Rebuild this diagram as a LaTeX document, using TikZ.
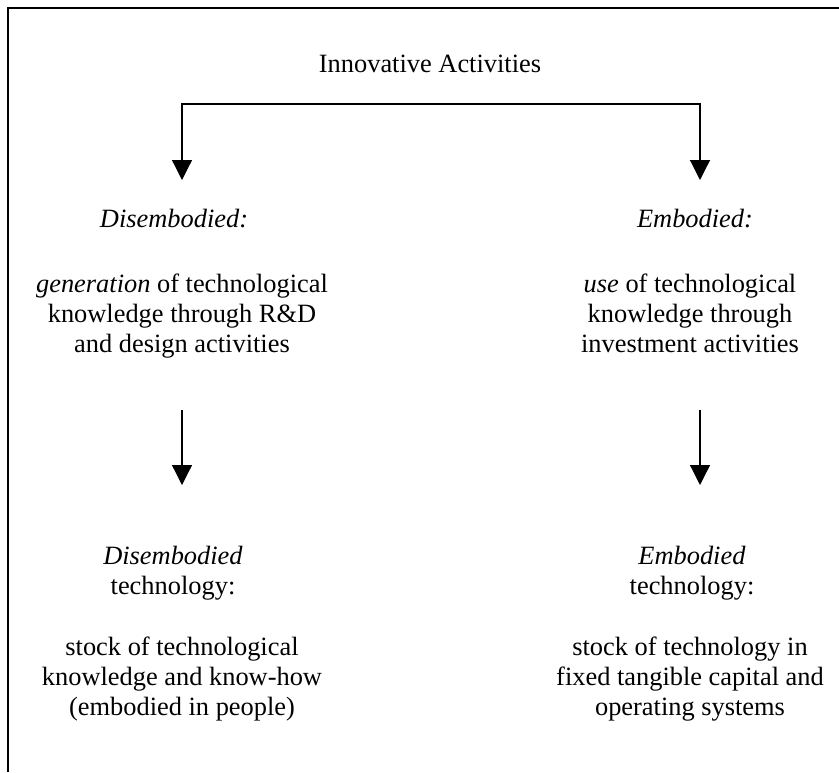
\documentclass[tikz,border=0pt]{standalone}
\usepackage{fontspec}
\setmainfont{Liberation Serif}
\usetikzlibrary{arrows.meta}

\begin{document}
\begin{tikzpicture}[x=0.5pt,y=-0.5pt,
    >={Triangle[length=10pt,width=10pt]},
    txt/.style={font=\fontsize{13.2}{15}\selectfont,align=center,inner sep=0pt,anchor=base},
    link/.style={line width=0.6pt},
    frame/.style={line width=0.8pt}]
  \useasboundingbox (0,0) rectangle (839,772);
  \draw[frame] (8,772) -- (8,8) -- (839,8);

  % base anchor of a multi-line node sits on its last line
  \node[txt] (title) at (430,72) {Innovative Activities};

  \node[txt] (disHead) at (174,227) {\textit{Disembodied:}};
  \node[txt] (disBody) at (182,352) {\textit{generation} of technological\\knowledge through R\&D\\and design activities};
  \node[txt] (embHead) at (695,227) {\textit{Embodied:}};
  \node[txt] (embBody) at (690,352) {\textit{use} of technological\\knowledge through\\investment activities};

  \node[txt] (disTechHead) at (173,594) {\textit{Disembodied}\\technology:};
  \node[txt] (disTech) at (182,715) {stock of technological\\knowledge and know-how\\(embodied in people)};
  \node[txt] (embTechHead) at (692,594) {\textit{Embodied}\\technology:};
  \node[txt] (embTech) at (690,715) {stock of technology in\\fixed tangible capital and\\operating systems};

  \coordinate (forkL) at (182,104);
  \coordinate (forkR) at (700,104);
  \coordinate (tipL) at (182,180);
  \coordinate (tipR) at (700,180);
  \coordinate (midL) at (182,410);
  \coordinate (midR) at (700,410);
  \coordinate (lowL) at (182,485);
  \coordinate (lowR) at (700,485);

  \draw[link,<->] (tipL) -- (forkL) -- (forkR) -- (tipR);
  \draw[link,->] (midL) -- (lowL);
  \draw[link,->] (midR) -- (lowR);
\end{tikzpicture}
\end{document}
